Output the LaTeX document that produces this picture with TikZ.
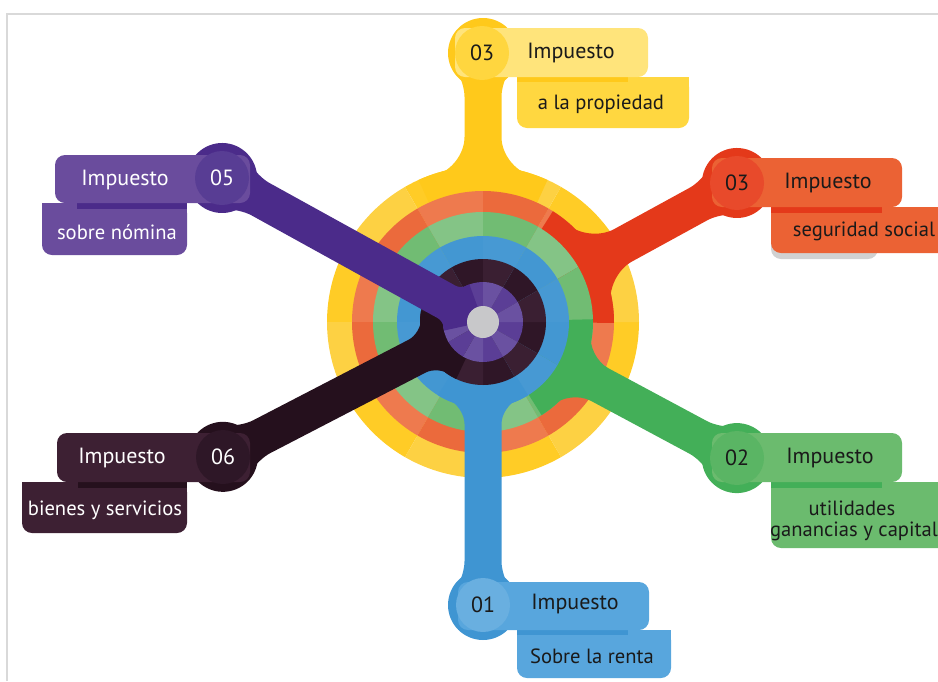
\documentclass[tikz,border=0pt]{standalone}
\usepackage{fontspec}
\setmainfont{PT Sans}
\usetikzlibrary{positioning}

\definecolor{armY}{HTML}{FFC91B}
\definecolor{boxYa}{HTML}{FFE47B}
\definecolor{boxYb}{HTML}{FFD740}
\definecolor{dotY}{HTML}{FFD63F}
\definecolor{armR}{HTML}{E4391A}
\definecolor{boxR}{HTML}{EB6234}
\definecolor{dotR}{HTML}{E84A2B}
\definecolor{armG}{HTML}{43AF58}
\definecolor{boxG}{HTML}{6BBB6E}
\definecolor{dotG}{HTML}{5AB564}
\definecolor{armB}{HTML}{3F95D2}
\definecolor{boxB}{HTML}{58A6DD}
\definecolor{dotB}{HTML}{69AFE0}
\definecolor{armD}{HTML}{25101D}
\definecolor{boxD}{HTML}{3D2033}
\definecolor{dotD}{HTML}{2E1727}
\definecolor{armP}{HTML}{4B2B8A}
\definecolor{boxP}{HTML}{6A4C9D}
\definecolor{dotP}{HTML}{583D94}
\definecolor{ringYa}{HTML}{FFCC26}
\definecolor{ringYb}{HTML}{FDD143}
\definecolor{ringRa}{HTML}{EE7A4E}
\definecolor{ringRb}{HTML}{EB6A3C}
\definecolor{ringGa}{HTML}{84C486}
\definecolor{ringGb}{HTML}{71BC73}
\definecolor{ringBa}{HTML}{4397D2}
\definecolor{ringBb}{HTML}{4799D3}
\definecolor{ringDa}{HTML}{2F1627}
\definecolor{ringDb}{HTML}{3A1F32}
\definecolor{ringPa}{HTML}{5B3E96}
\definecolor{ringPb}{HTML}{6A51A1}
\definecolor{hub}{HTML}{C8C8CA}
\definecolor{ink}{HTML}{1A1A1A}

% one ring of 12 sectors: radius, two shades
\newcommand{\ring}[3]{%
  \foreach \a in {0,60,...,300}
    \fill[#2] (ctr) -- ++(\a:#1) arc[start angle=\a, end angle=\a+30, radius=#1] -- cycle;
  \foreach \a in {30,90,...,330}
    \fill[#3] (ctr) -- ++(\a:#1) arc[start angle=\a, end angle=\a+30, radius=#1] -- cycle;}

% arm from a ring to its end disc: angle, ring radius, length, colour, fillet (pt)
\newcommand{\arm}[5]{%
  \pgfmathsetmacro{\sa}{asin(18.5/#2)+183*#5/#2}
  \pgfmathsetmacro{\cx}{#2*cos(asin(18.5/#2))}
  \begin{scope}[shift={(ctr)}, rotate=#1]
    \fill[#4] (0,0) -- ({-\sa}:#2) arc[start angle=-\sa, end angle=\sa, radius=#2] -- cycle;
    \fill[#4, rounded corners=7pt] (#3-5,-34.6) -- (#3-29.7,-18.5)
      [rounded corners=#5pt] -- (\cx,-18.5) -- ({-\sa}:#2) -- ({\sa}:#2) -- (\cx,18.5)
      [rounded corners=7pt] -- (#3-29.7,18.5) -- (#3-5,34.6) -- cycle;
    \fill[#4] (#3,0) circle[radius=35];
  \end{scope}}

\begin{document}
\begin{tikzpicture}[x=0.5pt, y=-0.5pt,
    txt/.style={font=\fontsize{11}{13}\selectfont, text=ink, inner sep=0pt},
    sub/.style={txt, font=\fontsize{10.3}{12}\selectfont},
    numdot/.style={circle, minimum size=27pt, inner sep=0pt, font=\fontsize{11}{13}\selectfont}]
  \useasboundingbox (0,0) rectangle (938,681);
  \draw[black!15, line width=1pt] (7,681) -- (7,14) -- (938,14);
  \coordinate (ctr) at (483,322);

  % rings and arms, outside in
  \ring{156}{ringYa}{ringYb}
  \arm{90}{156}{269}{armY}{15}
  \ring{131}{ringRa}{ringRb}
  \arm{28.7}{131}{289.5}{armR}{15}
  \ring{110}{ringGa}{ringGb}
  \arm{-28.2}{110}{288}{armG}{12}
  \ring{86}{ringBa}{ringBb}
  \arm{-90}{86}{283}{armB}{9}
  \ring{63}{ringDa}{ringDb}
  \arm{207.4}{63}{293}{armD}{7}
  \ring{40}{ringPa}{ringPb}
  \arm{151.1}{40}{298}{armP}{3}
  \fill[hub] (ctr) circle[radius=16];

  % 03 propiedad
  \fill[boxYb, rounded corners=5pt] (517,128) rectangle (689,77);
  \fill[boxYb] (517,77) rectangle (689,95);
  \fill[armY] (517,77) rectangle (628,82);
  \fill[boxYa, rounded corners=5pt] (455,28) rectangle (648,77);
  \node[numdot, fill=dotY, text=ink] (n3a) at (482,53) {03};
  \node[txt] (t3a) at (571,53) {Impuesto};
  \node[sub] (s3a) at (601,104) {a la propiedad};

  % 03 seguridad social
  \fill[black!18, rounded corners=5pt] (771,259) rectangle (878,230);
  \fill[boxR, rounded corners=5pt] (771,253) rectangle (960,207);
  \fill[boxR] (771,207) rectangle (960,225);
  \fill[armR] (771,207) rectangle (882,213);
  \fill[boxR, rounded corners=5pt] (712,158) rectangle (902,207);
  \node[numdot, fill=dotR, text=ink] (n3b) at (737,183) {03};
  \node[txt] (t3b) at (828,183) {Impuesto};
  \node[sub] (s3b) at (864,231) {seguridad social};

  % 02 utilidades
  \fill[boxG, rounded corners=5pt] (771,548) rectangle (960,482);
  \fill[boxG] (771,482) rectangle (960,500);
  \fill[armG] (771,482) rectangle (882,488);
  \fill[boxG, rounded corners=5pt] (712,433) rectangle (902,482);
  \node[numdot, fill=dotG, text=ink] (n2) at (737,458) {02};
  \node[txt] (t2) at (830,458) {Impuesto};
  \node[sub] (s2) at (852,508) {utilidades};
  \node[sub] (u2) at (854,531) {ganancias y capital};

  % 01 renta
  \fill[boxB, rounded corners=5pt] (517,678) rectangle (671,630);
  \fill[boxB] (517,630) rectangle (671,648);
  \fill[armB] (517,630) rectangle (628,635);
  \fill[boxB, rounded corners=5pt] (458,582) rectangle (649,630);
  \node[numdot, fill=dotB, text=ink] (n1) at (483,605) {01};
  \node[txt] (t1) at (575,604) {Impuesto};
  \node[sub] (s1) at (592,656) {Sobre la renta};

  % 06 bienes y servicios
  \fill[boxD, rounded corners=5pt] (22,533) rectangle (187,482);
  \fill[boxD] (22,482) rectangle (187,500);
  \fill[armD] (78,482) rectangle (187,488);
  \fill[boxD, rounded corners=5pt] (57,433) rectangle (250,482);
  \node[numdot, fill=dotD, text=white] (n6) at (223,457) {06};
  \node[txt, text=white] (t6) at (122,458) {Impuesto};
  \node[sub, text=white] (s6) at (105,510) {bienes y servicios};

  % 05 nomina
  \fill[boxP, rounded corners=5pt] (42,255) rectangle (187,203);
  \fill[boxP] (42,203) rectangle (187,221);
  \fill[armP] (77,203) rectangle (187,209);
  \fill[boxP, rounded corners=5pt] (55,155) rectangle (250,203);
  \node[numdot, fill=dotP, text=white] (n5) at (222,178) {05};
  \node[txt, text=white] (t5) at (125,180) {Impuesto};
  \node[sub, text=white] (s5) at (117,232) {sobre nómina};
\end{tikzpicture}
\end{document}
